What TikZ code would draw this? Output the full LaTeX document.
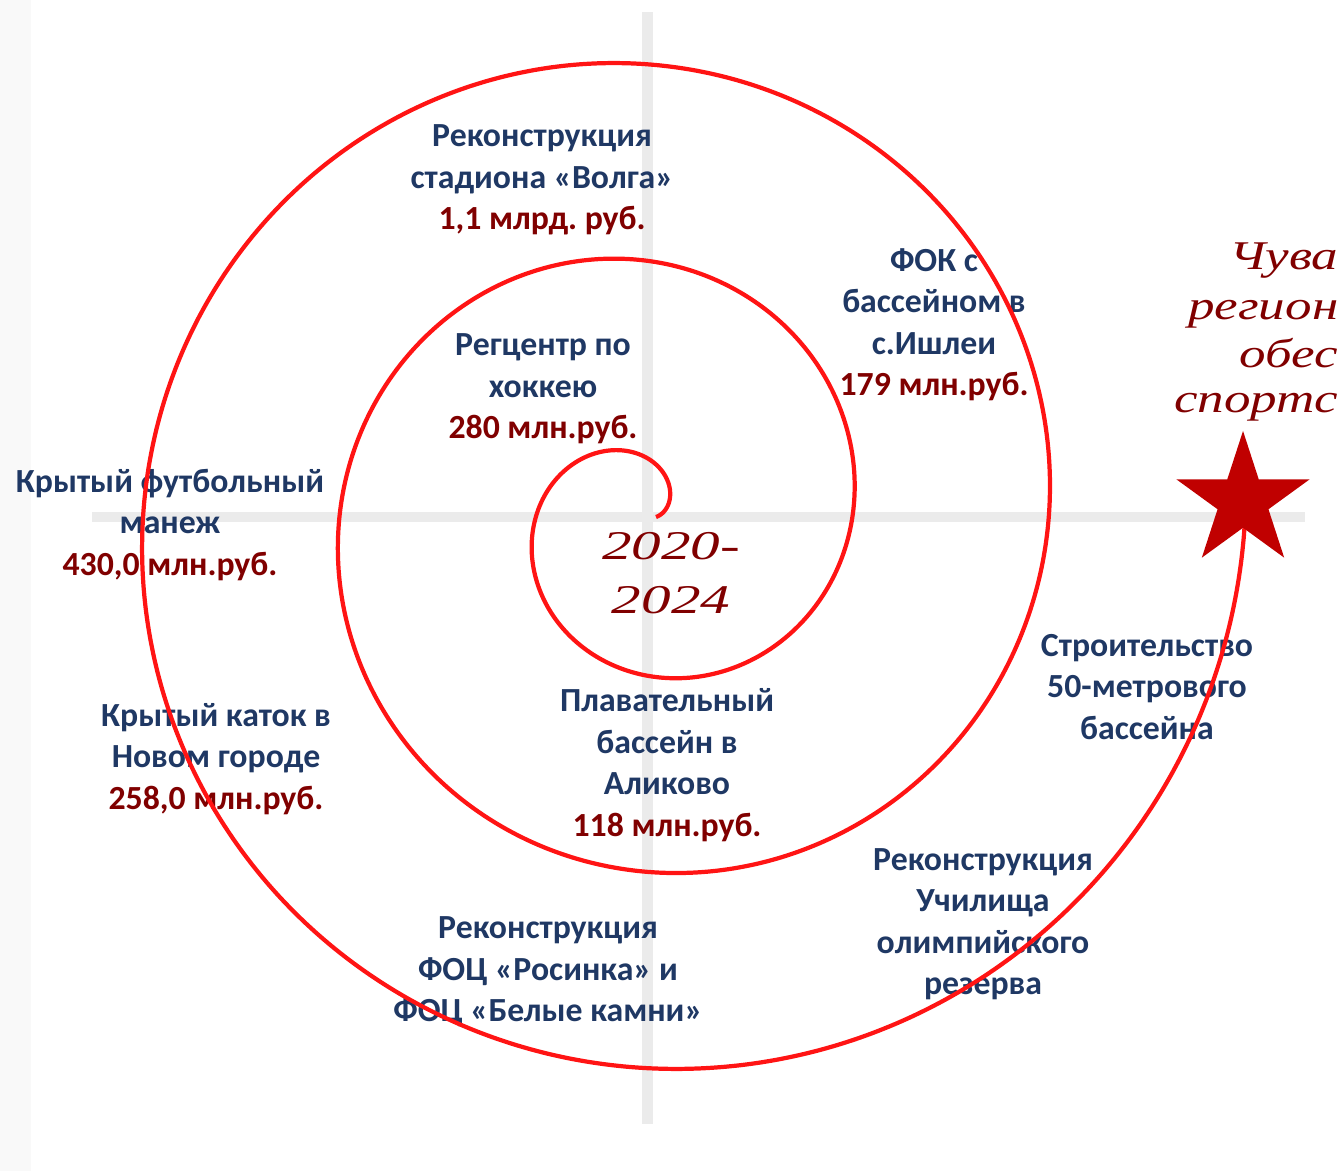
\documentclass[tikz,border=0pt]{standalone}
\usepackage{fontspec}
\setmainfont{Carlito}
\newfontfamily\handfont[FakeStretch=1.3]{Liberation Serif Italic}
\newfontfamily\yearfont[FakeStretch=1.45]{Liberation Serif Italic}
\usepackage{xcolor}
\usetikzlibrary{shapes.geometric}
\frenchspacing

\definecolor{navy}{HTML}{1F3864}
\definecolor{sum}{HTML}{800000}
\definecolor{spiralred}{HTML}{FF1414}
\definecolor{axisgrey}{HTML}{EBEBEB}
\definecolor{starred}{HTML}{C00000}

\begin{document}
\begin{tikzpicture}[x=0.01cm, y=-0.01cm,
  lbl/.style={align=center, text=navy, inner sep=0pt,
    font=\bfseries\fontsize{9.6}{11.8}\selectfont},
  hand/.style={text=sum, inner sep=0pt,
    font=\handfont\fontsize{11.6}{15.3}\selectfont},
  spiralline/.style={draw=spiralred, line width=1.2pt}]
\useasboundingbox (0,0) rectangle (1340,1171);
\fill[gray!5] (0,0) rectangle (31,1171);

\fill[axisgrey] (642,12) rectangle (653,1124);
\fill[axisgrey] (92,512) rectangle (1305,522);

\node[lbl](n1) at (542,180) {Реконструкция\\стадиона «Волга»\\\textcolor{sum}{1,1 млрд. руб.}};
\node[lbl](n2) at (934,325) {ФОК с\\бассейном в\\с.Ишлеи\\\textcolor{sum}{179 млн.руб.}};
\node[lbl](n3) at (543,389) {Регцентр по\\хоккею\\\textcolor{sum}{280 млн.руб.}};
\node[lbl](n4) at (170,525) {Крытый футбольный\\манеж\\\textcolor{sum}{430,0 млн.руб.}};
\node[lbl](n5) at (667,765) {Плавательный\\бассейн в\\Аликово\\\textcolor{sum}{118 млн.руб.}};
\node[lbl](n6) at (1147,687) {Строительство\\50-метрового\\бассейна};
\node[lbl](n7) at (216,759) {Крытый каток в\\Новом городе\\\textcolor{sum}{258,0 млн.руб.}};
\node[lbl](n8) at (983,924) {Реконструкция\\Училища\\олимпийского\\резерва};
\node[lbl](n9) at (548,972) {Реконструкция\\ФОЦ «Росинка» и\\ФОЦ «Белые камни»};

\node[hand, align=center, font=\yearfont\fontsize{11.6}{15.3}\selectfont](years) at (671,573) {2020-\\2024};

\node[hand, anchor=base east](h1) at (1339,270) {Чува};
\node[hand, anchor=base east](h2) at (1339,320) {регион};
\node[hand, anchor=base east](h3) at (1339,368) {обес};
\node[hand, anchor=base east](h4) at (1339,413) {спортс};

\draw[spiralline] plot[domain=0:1080, samples=541, smooth]
  ({645+(11+0.5455*\x)*cos(\x)}, {517-(11+0.5455*\x)*sin(\x)});

\node[star, star points=5, star point ratio=2.618, minimum size=1.4cm,
  inner sep=0pt, fill=starred](goal) at (1243,501) {};
\end{tikzpicture}
\end{document}
